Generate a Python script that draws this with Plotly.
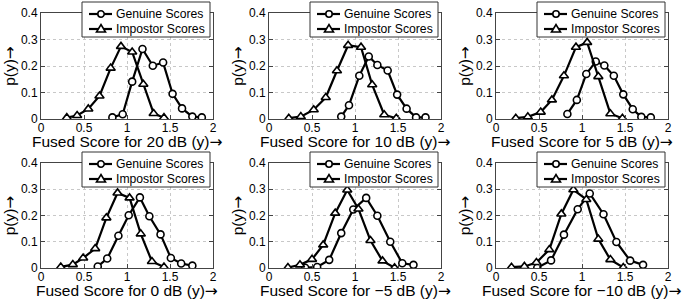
import plotly.graph_objects as go

# ---- data ----
titles = ["Fused Score for 20 dB (y)", "Fused Score for 10 dB (y)", "Fused Score for 5 dB (y)",
          "Fused Score for 0 dB (y)", "Fused Score for −5 dB (y)", "Fused Score for −10 dB (y)"]
series_names = ["Genuine Scores", "Impostor Scores"]

gen_x_20 = [0.83, 0.95, 1.06, 1.18, 1.30, 1.42, 1.53, 1.64, 1.76, 1.87]
gen_y_20 = [0.006, 0.018, 0.141, 0.264, 0.201, 0.213, 0.095, 0.040, 0.009, 0.006]
imp_x_20 = [0.30, 0.42, 0.55, 0.68, 0.81, 0.93, 1.06, 1.19, 1.31, 1.43]
imp_y_20 = [0.005, 0.013, 0.038, 0.087, 0.192, 0.274, 0.253, 0.131, 0.021, 0.005]

gen_x_10 = [0.84, 0.93, 1.05, 1.16, 1.26, 1.38, 1.49, 1.60, 1.71, 1.82]
gen_y_10 = [0.009, 0.052, 0.163, 0.236, 0.204, 0.183, 0.092, 0.039, 0.006, 0.006]
imp_x_10 = [0.23, 0.37, 0.52, 0.66, 0.79, 0.92, 1.07, 1.20, 1.34, 1.48]
imp_y_10 = [0.003, 0.009, 0.035, 0.081, 0.182, 0.278, 0.271, 0.129, 0.016, 0.003]

gen_x_5 = [0.83, 0.94, 1.05, 1.16, 1.26, 1.37, 1.48, 1.59, 1.69, 1.80]
gen_y_5 = [0.019, 0.072, 0.170, 0.217, 0.202, 0.163, 0.093, 0.037, 0.008, 0.006]
imp_x_5 = [0.23, 0.37, 0.52, 0.65, 0.79, 0.93, 1.06, 1.19, 1.33, 1.47]
imp_y_5 = [0.003, 0.008, 0.026, 0.072, 0.163, 0.271, 0.289, 0.160, 0.020, 0.003]

gen_x_0 = [0.66, 0.77, 0.90, 1.02, 1.15, 1.26, 1.39, 1.51, 1.63, 1.76]
gen_y_0 = [0.006, 0.036, 0.123, 0.201, 0.269, 0.197, 0.128, 0.038, 0.017, 0.009]
imp_x_0 = [0.23, 0.37, 0.49, 0.63, 0.76, 0.89, 1.03, 1.16, 1.29, 1.43]
imp_y_0 = [0.004, 0.013, 0.038, 0.074, 0.191, 0.286, 0.267, 0.130, 0.025, 0.004]

gen_x_m5 = [0.42, 0.56, 0.70, 0.84, 0.98, 1.13, 1.26, 1.41, 1.55, 1.68]
gen_y_m5 = [0.001, 0.004, 0.031, 0.133, 0.223, 0.267, 0.199, 0.100, 0.018, 0.012]
imp_x_m5 = [0.22, 0.36, 0.50, 0.63, 0.77, 0.91, 1.04, 1.18, 1.32, 1.46]
imp_y_m5 = [0.002, 0.012, 0.033, 0.088, 0.209, 0.297, 0.225, 0.105, 0.027, 0.001]

gen_x_m10 = [0.48, 0.64, 0.79, 0.95, 1.09, 1.25, 1.40, 1.56, 1.71]
gen_y_m10 = [0.001, 0.029, 0.127, 0.224, 0.284, 0.205, 0.099, 0.028, 0.012]
imp_x_m10 = [0.18, 0.33, 0.47, 0.62, 0.76, 0.90, 1.05, 1.19, 1.33, 1.48]
imp_y_m10 = [0.003, 0.006, 0.021, 0.070, 0.206, 0.298, 0.261, 0.110, 0.032, 0.002]

x_ticks = [0, 0.5, 1, 1.5, 2]
x_tick_text = ["0", "0.5", "1", "1.5", "2"]
y_ticks = [0, 0.1, 0.2, 0.3, 0.4]
y_tick_text = ["0", "0.1", "0.2", "0.3", "0.4"]

panels = [
    (gen_x_20, gen_y_20, imp_x_20, imp_y_20),
    (gen_x_10, gen_y_10, imp_x_10, imp_y_10),
    (gen_x_5, gen_y_5, imp_x_5, imp_y_5),
    (gen_x_0, gen_y_0, imp_x_0, imp_y_0),
    (gen_x_m5, gen_y_m5, imp_x_m5, imp_y_m5),
    (gen_x_m10, gen_y_m10, imp_x_m10, imp_y_m10),
]

# ---- layout geometry (pixels) ----
W, H = 685, 303
cols = [(41, 213), (269, 441), (496, 668)]
rows = [(13, 119), (163, 268)]

FONT = "Liberation Sans, Arial, sans-serif"
ARROW = '<span style="font-family:DejaVu Sans">→</span>'
INK = "black"


def px(x):
    return x / W


def py(y):
    return 1 - y / H


fig = go.Figure()
layout = dict(width=W, height=H, margin=dict(l=0, r=0, t=0, b=0),
              paper_bgcolor="white", plot_bgcolor="white",
              font=dict(family=FONT, color="black", size=12), showlegend=False)
shapes = []
annotations = []

marker_g = dict(symbol="circle", size=7, color="white", line=dict(color=INK, width=1.6))
marker_i = dict(symbol="triangle-up", size=8, color="white", line=dict(color=INK, width=1.6))

for i, (gx, gy, ix, iy) in enumerate(panels):
    r, c = divmod(i, 3)
    n = "" if i == 0 else str(i + 1)
    fig.add_trace(go.Scatter(x=gx, y=gy, mode="lines+markers", name=series_names[0],
                             xaxis="x" + n, yaxis="y" + n,
                             line=dict(color=INK, width=2.2), marker=marker_g))
    fig.add_trace(go.Scatter(x=ix, y=iy, mode="lines+markers", name=series_names[1],
                             xaxis="x" + n, yaxis="y" + n,
                             line=dict(color=INK, width=2.2), marker=marker_i))
    l, rr = cols[c]
    t, b = rows[r]
    axcommon = dict(showline=True, linecolor="#444", linewidth=1, mirror="ticks",
                    ticks="inside", ticklen=4, tickcolor="#444", automargin=False,
                    showgrid=True, gridcolor="#c8c8c8", griddash="dot", gridwidth=1,
                    zeroline=False, tickfont=dict(family=FONT, size=12, color="black"))
    layout["xaxis" + n] = dict(axcommon, domain=[px(l), px(rr)], range=[0, 2],
                               tickvals=x_ticks, ticktext=x_tick_text, anchor="y" + n,
                               ticklabelstandoff=-2)
    layout["yaxis" + n] = dict(axcommon, domain=[py(b), py(t)], range=[0, 0.4],
                               tickvals=y_ticks, ticktext=y_tick_text, anchor="x" + n,
                               title=dict(text="p(y)" + ARROW,
                                          font=dict(family=FONT, size=15.5), standoff=1))
    # x-axis title (placed as annotation for exact vertical position)
    annotations.append(dict(xref="paper", yref="paper", x=px((l + rr) / 2), y=py(b + 23),
                            xanchor="center", yanchor="middle", showarrow=False,
                            text=titles[i] + ARROW,
                            font=dict(family=FONT, size=15.5, color="black")))

    # ---- legend box for this panel ----
    bl, br = l + 41, l + 169
    bt, bb = t - 11, t + 24
    shapes.append(dict(type="rect", xref="paper", yref="paper", layer="above",
                       x0=px(bl), x1=px(br), y0=py(bb), y1=py(bt),
                       fillcolor="white", line=dict(color="#333", width=1)))
    for k in range(2):
        cy = bt + 12 + 15 * k
        shapes.append(dict(type="line", xref="paper", yref="paper", layer="above",
                           x0=px(bl + 7), x1=px(bl + 30), y0=py(cy), y1=py(cy),
                           line=dict(color=INK, width=2.2)))
        mx = bl + 19
        if k == 0:
            shapes.append(dict(type="circle", xref="paper", yref="paper", layer="above",
                               x0=px(mx - 3.2), x1=px(mx + 3.2), y0=py(cy + 3.2), y1=py(cy - 3.2),
                               fillcolor="white", line=dict(color=INK, width=1.6)))
        else:
            path = "M {:.5f},{:.5f} L {:.5f},{:.5f} L {:.5f},{:.5f} Z".format(
                px(mx - 4.5), py(cy + 3.0), px(mx + 4.5), py(cy + 3.0), px(mx), py(cy - 4.5))
            shapes.append(dict(type="path", xref="paper", yref="paper", layer="above",
                               path=path, fillcolor="white", line=dict(color=INK, width=1.6)))
        annotations.append(dict(xref="paper", yref="paper", x=px(bl + 32), y=py(cy),
                                xanchor="left", yanchor="middle", showarrow=False,
                                text=series_names[k],
                                font=dict(family=FONT, size=12.2, color="black")))

layout["shapes"] = shapes
layout["annotations"] = annotations
fig.update_layout(**layout)
fig.write_html("out.html", config={"displayModeBar": False},
               post_script="document.body.style.margin='0';document.body.style.padding='0';")
